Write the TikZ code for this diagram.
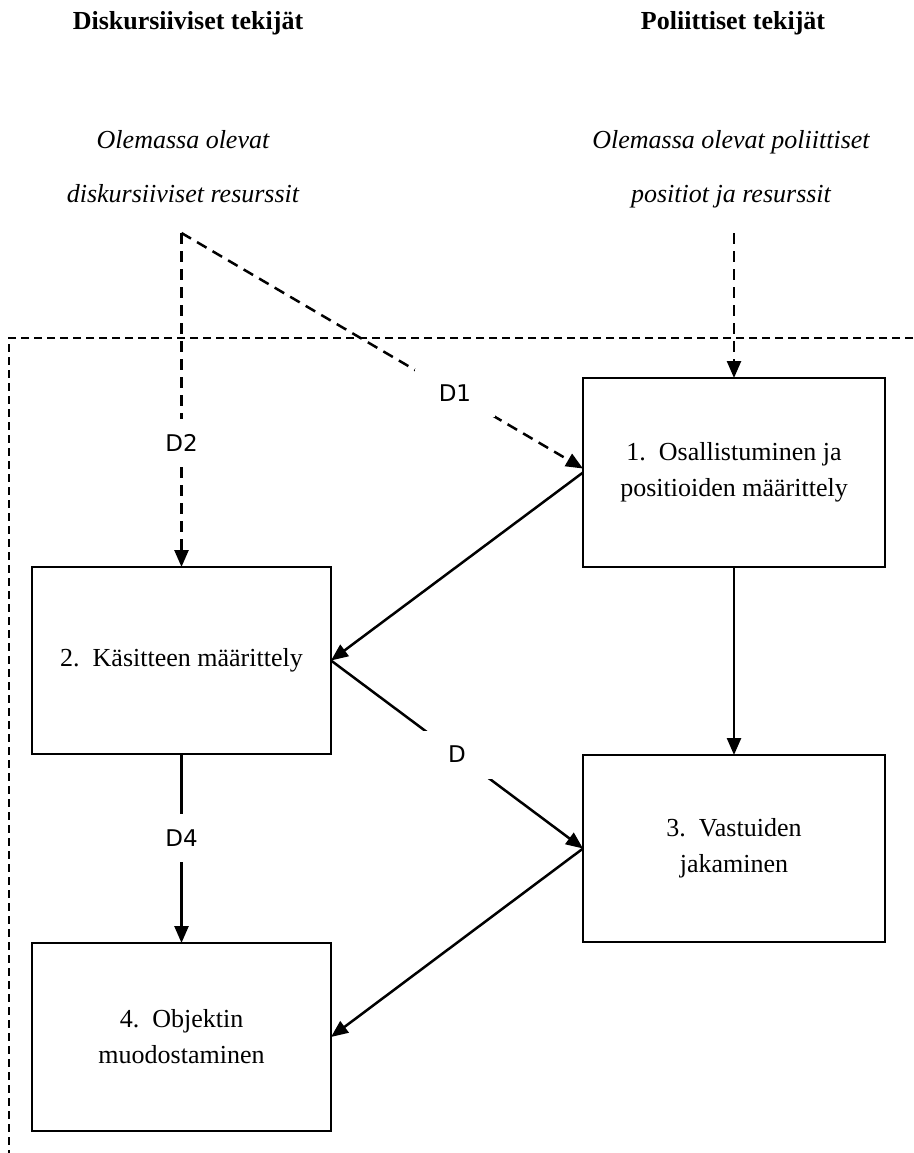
\documentclass[tikz,border=0pt]{standalone}
\usepackage{fontspec}
\setmainfont{Liberation Serif}
\newfontfamily\labelfont{DejaVu Sans}
\usetikzlibrary{arrows.meta}

\tikzset{
  every picture/.style={x=1pt,y=-1pt},
  boxnode/.style={draw,line width=2.5pt,outer sep=0pt,align=center,
    font=\fontsize{26}{36}\selectfont},
  headtext/.style={anchor=base,font=\fontsize{26}{36}\selectfont\bfseries},
  sourcetext/.style={anchor=base,font=\fontsize{26}{36}\selectfont\itshape},
  flow/.style={line width=2.5pt,-{Triangle[length=17pt,width=14pt]}},
  dflow/.style={flow,dash pattern=on 11pt off 7pt},
  lbl/.style={fill=white,inner sep=0pt,minimum width=80pt,minimum height=48pt,
    font=\labelfont\fontsize{23}{26}\selectfont},
  frame/.style={line width=2.5pt,dash pattern=on 8pt off 5pt}
}

\begin{document}
\begin{tikzpicture}
\useasboundingbox (0,0) rectangle (913,1153);

% column headings
\node[headtext] (hd) at (188,30) {Diskursiiviset tekijät};
\node[headtext] (hp) at (733,30) {Poliittiset tekijät};

% resources feeding the process
\node[sourcetext] (sd1) at (183,149) {Olemassa olevat};
\node[sourcetext] (sd2) at (183,202) {diskursiiviset resurssit};
\node[sourcetext] (sp1) at (731,149) {Olemassa olevat poliittiset};
\node[sourcetext] (sp2) at (731,202) {positiot ja resurssit};

% dashed frame around the process
\draw[frame] (913,338) -- (9,338) -- (9,1153);

% process steps
\node[boxnode,minimum width=302pt,minimum height=189pt] (b1) at (734,472.5)
  {1.\ \ Osallistuminen ja\\positioiden määrittely};
\node[boxnode,minimum width=299pt,minimum height=187pt] (b2) at (181.5,660.5)
  {2.\ \ Käsitteen määrittely};
\node[boxnode,minimum width=302pt,minimum height=187pt] (b3) at (734,848.5)
  {3.\ \ Vastuiden\\jakaminen};
\node[boxnode,minimum width=299pt,minimum height=188pt] (b4) at (181.5,1037)
  {4.\ \ Objektin\\muodostaminen};

% starting points of the resource arrows
\coordinate (dtop) at (181.5,233);
\coordinate (ptop) at (734,233);

% resource arrows
\draw[dflow] (dtop) -- node[lbl,pos=0.681] (l1) {D1} ([yshift=4pt]b1.west);
\draw[dflow] (dtop) -- node[lbl,pos=0.629] (l2) {D2} (b2.north);
\draw[dflow] (ptop) -- (b1.north);

% flow between the steps
\draw[flow] (b1.west) -- (b2.east);
\draw[flow] (b1.south) -- (b3.north);
\draw[flow] (b2.east) -- node[lbl,pos=0.5] (l3) {D} (b3.west);
\draw[flow] (b2.south) -- node[lbl,pos=0.444] (l4) {D4} (b4.north);
\draw[flow] (b3.west) -- (b4.east);
\end{tikzpicture}
\end{document}
